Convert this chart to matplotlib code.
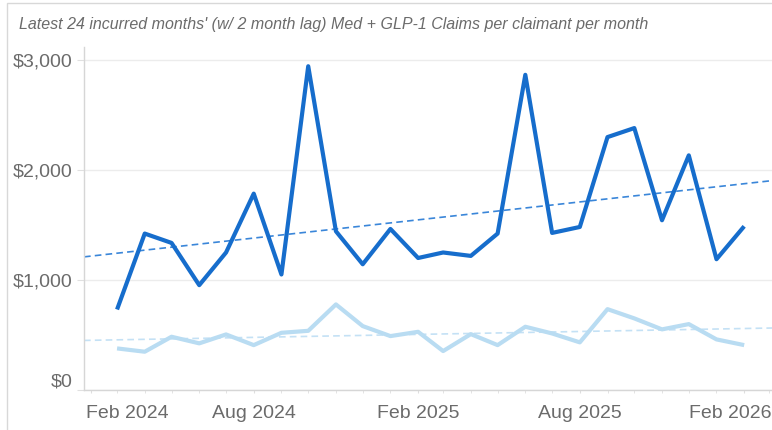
import numpy as np
import pandas as pd
import matplotlib
matplotlib.use("Agg")
import matplotlib.pyplot as plt
import matplotlib.dates as mdates
import matplotlib.transforms as mtransforms
from matplotlib.ticker import FuncFormatter

# Данные: 24 месяца (Mar 2024 - Feb 2026)
months = pd.date_range("2024-03-01", periods=24, freq="MS")
med_glp1 = [732, 1422, 1337, 953, 1250, 1785, 1050, 2943, 1443, 1143, 1464, 1200,
            1250, 1219, 1422, 2865, 1428, 1482, 2299, 2381, 1543, 2133, 1189, 1488]
benchmark = [378, 348, 484, 424, 505, 408, 520, 538, 778, 581, 490, 529,
             354, 508, 408, 575, 514, 433, 735, 651, 551, 599, 460, 408]
y_ticks = [0, 1000, 2000, 3000]
title = "Latest 24 incurred months' (w/ 2 month lag) Med + GLP-1 Claims per claimant per month"

plt.rcParams['font.family'] = ['Liberation Sans', 'DejaVu Sans']

fig = plt.figure(figsize=(7.72, 4.30), dpi=100)
ax = fig.add_axes([84 / 772, 1 - 390 / 430, 1 - 84 / 772 + 0.001, (390 - 47) / 430])

# рамка карточки
fig.patches.append(plt.Rectangle((7 / 772, -0.1), 1.2, 1 - 3 / 430 + 0.1,
                                 transform=fig.transFigure, fill=False,
                                 edgecolor='#d8d8d8', linewidth=1.0))

x_left = months[0] - pd.Timedelta(days=37)
x_right = months[-1] + pd.Timedelta(days=32)
xnum = mdates.date2num(months)

# линии тренда (линейная регрессия)
trend_x = np.array([mdates.date2num(x_left), mdates.date2num(x_right)])
for vals, col in [(benchmark, '#c4e1f5'), (med_glp1, '#3a86d9')]:
    k, b = np.polyfit(xnum, vals, 1)
    ax.plot(trend_x, k * trend_x + b, color=col, linewidth=1.2,
            dashes=(4, 2.5), zorder=2)

ax.plot(months, benchmark, color='#b9dcf2', linewidth=3.0,
        solid_joinstyle='round', solid_capstyle='butt', zorder=3)
ax.plot(months, med_glp1, color='#166dcc', linewidth=3.0,
        solid_joinstyle='round', solid_capstyle='butt', zorder=4)

ax.set_xlim(x_left, x_right)
ax.set_ylim(0, 3118)

ax.set_yticks(y_ticks)
ax.yaxis.set_major_formatter(FuncFormatter(lambda v, p: f"${v:,.0f}"))
ax.grid(axis='y', color='#ececec', linewidth=1.0)
ax.set_axisbelow(True)

ax.xaxis.set_major_locator(mdates.MonthLocator(bymonth=(2, 8)))
ax.xaxis.set_major_formatter(mdates.DateFormatter('%b %Y'))
ax.xaxis.set_minor_locator(mdates.MonthLocator())

for s in ['top', 'right']:
    ax.spines[s].set_visible(False)
for s in ['left', 'bottom']:
    ax.spines[s].set_color('#d6d6d6')
    ax.spines[s].set_linewidth(1.0)

ax.tick_params(axis='y', length=5, color='#e0e0e0', labelsize=14,
               labelcolor='#6b6b6b', pad=3)
ax.tick_params(axis='x', which='both', length=2.5, color='#dedede',
               labelsize=14, labelcolor='#6b6b6b', pad=8)

fig.canvas.draw()
# подписи по краям сдвинуты внутрь, как в оригинале
xl = ax.get_xticklabels()
xl[0].set_transform(xl[0].get_transform() +
                    mtransforms.ScaledTranslation(36 / 100, 0, fig.dpi_scale_trans))
xl[-1].set_transform(xl[-1].get_transform() +
                     mtransforms.ScaledTranslation(-14 / 100, 0, fig.dpi_scale_trans))
yl = ax.get_yticklabels()
yl[0].set_transform(yl[0].get_transform() +
                    mtransforms.ScaledTranslation(0, 10 / 100, fig.dpi_scale_trans))

fig.text(19 / 772, 1 - 24 / 430, title, fontsize=11.5, style='italic',
         color='#6b6b6b', va='center', ha='left')

fig.savefig('out.png', dpi=100)
